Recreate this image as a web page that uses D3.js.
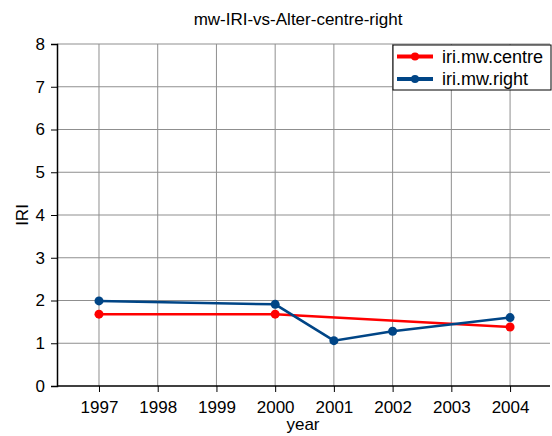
<!DOCTYPE html>
<html>
<head>
<meta charset="utf-8">
<script src="https://cdn.jsdelivr.net/npm/d3@7"></script>
<style>
  body { margin: 0; background: #fff; }
  text { font-family: "Liberation Sans", Arial, sans-serif; fill: #000; }
</style>
</head>
<body>
<div id="chart"></div>
<script>
// chart data
var years = [ 1997, 1998, 1999, 2000, 2001, 2002, 2003, 2004 ];
var centreYears = [ 1997, 2000, 2004 ];
var centreValues = [ 1.68, 1.68, 1.38 ];
var rightYears = [ 1997, 2000, 2001, 2002, 2004 ];
var rightValues = [ 1.99, 1.91, 1.06, 1.28, 1.60 ];
var yTicks = [ 0, 1, 2, 3, 4, 5, 6, 7, 8 ];
var seriesNames = [ "iri.mw.centre", "iri.mw.right" ];
var seriesColors = [ "#ff0000", "#004586" ];

var width = 552,
	height = 436,
	margin = { top: 44, right: 2, bottom: 50, left: 57 };

var svg = d3.select( "#chart" ).append( "svg" )
	.attr( "width", width )
	.attr( "height", height );

// scales
var x = d3.scaleLinear()
	.domain( [ 1996.285, 2004.68 ] )
	.range( [ margin.left, width - margin.right ] );
var y = d3.scaleLinear()
	.domain( [ 0, 8 ] )
	.range( [ height - margin.bottom, margin.top ] );

// grid
svg.append( "g" ).selectAll( "line.v" )
	.data( years ).enter().append( "line" )
	.attr( "x1", function ( d ) { return x( d ); } )
	.attr( "x2", function ( d ) { return x( d ); } )
	.attr( "y1", y( 0 ) ).attr( "y2", y( 8 ) )
	.attr( "stroke", "#8f8f8f" ).attr( "stroke-width", 1 );
svg.append( "g" ).selectAll( "line.h" )
	.data( yTicks.slice( 1 ) ).enter().append( "line" )
	.attr( "x1", margin.left ).attr( "x2", width - margin.right )
	.attr( "y1", function ( d ) { return y( d ); } )
	.attr( "y2", function ( d ) { return y( d ); } )
	.attr( "stroke", "#8f8f8f" ).attr( "stroke-width", 1 );

// axes
var xAxis = svg.append( "g" )
	.attr( "transform", "translate(0," + y( 0 ) + ")" )
	.call( d3.axisBottom( x ).tickValues( years ).tickFormat( d3.format( "d" ) ).tickSizeOuter( 0 ).tickSize( 6 ).tickPadding( 9 ) );
var yAxis = svg.append( "g" )
	.attr( "transform", "translate(" + margin.left + ",0)" )
	.call( d3.axisLeft( y ).tickValues( yTicks ).tickSizeOuter( 0 ).tickSize( 6 ).tickPadding( 6 ) );
[ xAxis, yAxis ].forEach( function ( a ) {
	a.selectAll( "text" ).style( "font-size", "17px" ).attr( "font-family", null );
	a.selectAll( "line" ).attr( "stroke", "#000" );
	a.select( ".domain" ).attr( "stroke", "#000" ).attr( "stroke-width", 1.5 );
} );
xAxis.select( ".domain" ).attr( "d", "M" + margin.left + ",0H" + ( width - margin.right ) );

// titles
svg.append( "text" ).attr( "x", 298 ).attr( "y", 25 )
	.attr( "text-anchor", "middle" ).style( "font-size", "17px" )
	.text( "mw-IRI-vs-Alter-centre-right" );
svg.append( "text" ).attr( "x", 303 ).attr( "y", 430 )
	.attr( "text-anchor", "middle" ).style( "font-size", "17px" )
	.text( "year" );
svg.append( "text" ).attr( "transform", "translate(28," + y( 4 ) + ") rotate(-90)" )
	.attr( "text-anchor", "middle" ).style( "font-size", "17px" )
	.text( "IRI" );

// series
var series = [
	{ xs: centreYears, ys: centreValues },
	{ xs: rightYears, ys: rightValues }
];
var line = d3.line()
	.x( function ( d ) { return x( d[ 0 ] ); } )
	.y( function ( d ) { return y( d[ 1 ] ); } );
series.forEach( function ( s, i ) {
	var pts = d3.zip( s.xs, s.ys );
	svg.append( "path" ).datum( pts )
		.attr( "d", line ).attr( "fill", "none" )
		.attr( "stroke", seriesColors[ i ] ).attr( "stroke-width", 2.5 );
	svg.append( "g" ).selectAll( "circle" )
		.data( pts ).enter().append( "circle" )
		.attr( "cx", function ( d ) { return x( d[ 0 ] ); } )
		.attr( "cy", function ( d ) { return y( d[ 1 ] ); } )
		.attr( "r", 4.5 ).attr( "fill", seriesColors[ i ] );
} );

// legend
var legend = svg.append( "g" );
legend.append( "rect" ).attr( "x", 393 ).attr( "y", 45 )
	.attr( "width", 158 ).attr( "height", 45 )
	.attr( "fill", "#fff" ).attr( "stroke", "#000" );
seriesNames.forEach( function ( name, i ) {
	var ly = 56.5 + i * 22.5;
	legend.append( "line" ).attr( "x1", 397 ).attr( "x2", 433 )
		.attr( "y1", ly ).attr( "y2", ly )
		.attr( "stroke", seriesColors[ i ] ).attr( "stroke-width", 4 );
	legend.append( "circle" ).attr( "cx", 415 ).attr( "cy", ly ).attr( "r", 4 )
		.attr( "fill", seriesColors[ i ] );
	legend.append( "text" ).attr( "x", 442 ).attr( "y", ly + 6 )
		.style( "font-size", "18px" ).text( name );
} );
</script>
</body>
</html>
